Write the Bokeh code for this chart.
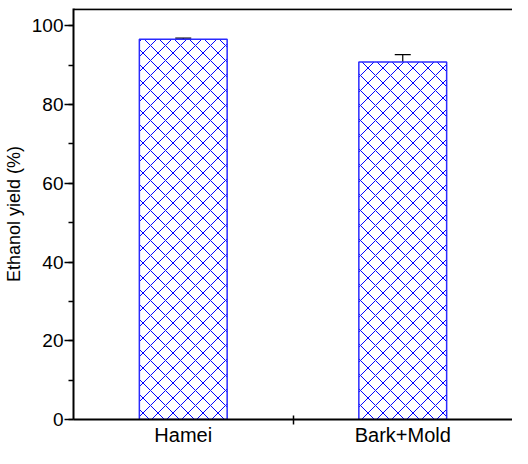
from bokeh.plotting import figure
from bokeh.models import (Range1d, FixedTicker, SingleIntervalTicker, Whisker,
                          ColumnDataSource, Span, TeeHead)
from bokeh.embed import file_html
from bokeh.resources import INLINE

categories = ["Hamei", "Bark+Mold"]
yields = [96.6, 90.8]
errors = [0.3, 1.9]

xs = list(range(1, len(categories) + 1))
src = ColumnDataSource(dict(
    x=xs, top=yields,
    upper=[v + e for v, e in zip(yields, errors)],
    lower=[v - e for v, e in zip(yields, errors)],
))

p = figure(width=512, height=448, output_backend="svg", toolbar_location=None,
           x_range=Range1d(0.5, 2.5), y_range=Range1d(0, 104.4),
           min_border_left=10, min_border_top=8, min_border_right=0, min_border_bottom=0)
p.outline_line_color = None
p.grid.visible = False
p.background_fill_color = "white"

p.vbar(x="x", top="top", width=0.4, source=src, fill_color="white",
       line_color="#2a2aff", line_width=1.5,
       hatch_pattern="x", hatch_color="#0000ff", hatch_scale=15, hatch_weight=1)

w = Whisker(base="x", upper="upper", lower="lower", source=src,
            line_color="black", line_width=1.2,
            upper_head=TeeHead(size=16, line_color="black", line_width=1.2),
            lower_head=TeeHead(size=16, line_color="black", line_width=1.2))
p.add_layout(w)

p.add_layout(Span(location=104.2, dimension="width", line_color="black", line_width=2))

font = "Liberation Sans"
# y axis
yax = p.yaxis[0]
yax.ticker = SingleIntervalTicker(interval=20, num_minor_ticks=2)
yax.axis_label = "Ethanol yield (%)"
yax.axis_label_text_font = font
yax.axis_label_text_font_size = "18px"
yax.axis_label_text_font_style = "normal"
yax.axis_label_text_color = "black"
yax.axis_label_standoff = 5
yax.major_label_text_font = font
yax.major_label_text_font_size = "19px"
yax.major_label_text_color = "black"
yax.major_label_standoff = 1
yax.major_tick_in = 0
yax.major_tick_out = 9
yax.minor_tick_in = 0
yax.minor_tick_out = 5
yax.axis_line_width = 2
yax.major_tick_line_width = 1.5
yax.minor_tick_line_width = 1.5
yax.axis_line_color = "black"

# x axis
xax = p.xaxis[0]
mids = [x + 0.5 for x in xs[:-1]]
xax.ticker = FixedTicker(ticks=xs, minor_ticks=mids)
xax.major_label_overrides = {x: c for x, c in zip(xs, categories)}
xax.major_label_text_font = font
xax.major_label_text_font_size = "20px"
xax.major_label_text_color = "black"
xax.major_label_standoff = -1
xax.major_tick_in = 0
xax.major_tick_out = 0
xax.minor_tick_in = 4
xax.minor_tick_out = 5
xax.minor_tick_line_width = 1.5
xax.axis_line_width = 2
xax.axis_line_color = "black"

open("out.html", "w").write(file_html(p, INLINE))
